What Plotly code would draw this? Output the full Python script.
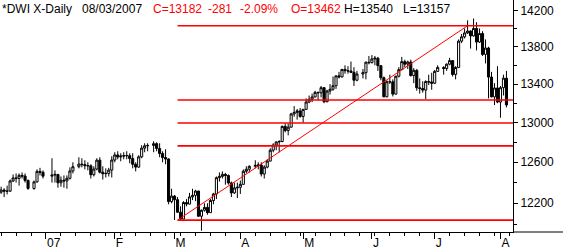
import numpy as np
import plotly.graph_objects as go

# ---------------- data ----------------
dates = [
    "2006-12-08",
    "2006-12-11", "2006-12-12", "2006-12-13", "2006-12-14", "2006-12-15", "2006-12-18", "2006-12-19",
    "2006-12-20", "2006-12-21", "2006-12-22", "2006-12-26", "2006-12-27", "2006-12-28", "2006-12-29",
    "2007-01-03", "2007-01-04", "2007-01-05", "2007-01-08", "2007-01-09", "2007-01-10", "2007-01-11",
    "2007-01-12", "2007-01-16", "2007-01-17", "2007-01-18", "2007-01-19", "2007-01-22", "2007-01-23",
    "2007-01-24", "2007-01-25", "2007-01-26", "2007-01-29", "2007-01-30", "2007-01-31",
    "2007-02-01", "2007-02-02", "2007-02-05", "2007-02-06", "2007-02-07", "2007-02-08", "2007-02-09",
    "2007-02-12", "2007-02-13", "2007-02-14", "2007-02-15", "2007-02-16", "2007-02-20", "2007-02-21",
    "2007-02-22", "2007-02-23", "2007-02-26", "2007-02-27", "2007-02-28",
    "2007-03-01", "2007-03-02", "2007-03-05", "2007-03-06", "2007-03-07", "2007-03-08", "2007-03-09",
    "2007-03-12", "2007-03-13", "2007-03-14", "2007-03-15", "2007-03-16", "2007-03-19", "2007-03-20",
    "2007-03-21", "2007-03-22", "2007-03-23", "2007-03-26", "2007-03-27", "2007-03-28", "2007-03-29",
    "2007-03-30",
    "2007-04-02", "2007-04-03", "2007-04-04", "2007-04-05", "2007-04-09", "2007-04-10", "2007-04-11",
    "2007-04-12", "2007-04-13", "2007-04-16", "2007-04-17", "2007-04-18", "2007-04-19", "2007-04-20",
    "2007-04-23", "2007-04-24", "2007-04-25", "2007-04-26", "2007-04-27", "2007-04-30",
    "2007-05-01", "2007-05-02", "2007-05-03", "2007-05-04", "2007-05-07", "2007-05-08", "2007-05-09",
    "2007-05-10", "2007-05-11", "2007-05-14", "2007-05-15", "2007-05-16", "2007-05-17", "2007-05-18",
    "2007-05-21", "2007-05-22", "2007-05-23", "2007-05-24", "2007-05-25", "2007-05-29", "2007-05-30",
    "2007-05-31",
    "2007-06-01", "2007-06-04", "2007-06-05", "2007-06-06", "2007-06-07", "2007-06-08", "2007-06-11",
    "2007-06-12", "2007-06-13", "2007-06-14", "2007-06-15", "2007-06-18", "2007-06-19", "2007-06-20",
    "2007-06-21", "2007-06-22", "2007-06-25", "2007-06-26", "2007-06-27", "2007-06-28", "2007-06-29",
    "2007-07-02", "2007-07-03", "2007-07-05", "2007-07-06", "2007-07-09", "2007-07-10", "2007-07-11",
    "2007-07-12", "2007-07-13", "2007-07-16", "2007-07-17", "2007-07-18", "2007-07-19", "2007-07-20",
    "2007-07-23", "2007-07-24", "2007-07-25", "2007-07-26", "2007-07-27", "2007-07-30", "2007-07-31",
    "2007-08-01", "2007-08-02", "2007-08-03",
]

open_ = [
    12278,
    12307, 12328, 12316, 12317, 12416, 12446, 12441, 12471, 12464, 12421, 12343, 12407, 12510, 12501,
    12463, 12474, 12480, 12398, 12423, 12416, 12442, 12514, 12556, 12582, 12577, 12567, 12565, 12477,
    12533, 12621, 12502, 12487, 12490, 12523,
    12622, 12673, 12653, 12661, 12666, 12666, 12637, 12580, 12552, 12654, 12741, 12765, 12768, 12786,
    12738, 12687, 12647, 12632, 12216,
    12269, 12234, 12114, 12050, 12207, 12192, 12261, 12276, 12318, 12076, 12133, 12160, 12110, 12226,
    12289, 12448, 12461, 12481, 12469, 12397, 12300, 12348,
    12354, 12383, 12511, 12531, 12560, 12569, 12573, 12484, 12552, 12612, 12720, 12773, 12803, 12808,
    12961, 12919, 12953, 13089, 13105, 13120,
    13063, 13136, 13212, 13241, 13265, 13313, 13309, 13362, 13215, 13327, 13346, 13383, 13487, 13476,
    13556, 13542, 13539, 13525, 13441, 13507, 13521, 13633,
    13628, 13668, 13676, 13596, 13467, 13267, 13425, 13424, 13295, 13483, 13553, 13639, 13612, 13635,
    13490, 13546, 13361, 13353, 13337, 13427, 13422,
    13409, 13535, 13577, 13566, 13612, 13650, 13502, 13577, 13861, 13908, 13951, 13972, 13918, 14000,
    13851, 13944, 13717, 13786, 13474, 13266, 13359,
    13212, 13362, 13462,
]

high_ = [
    12330,
    12360, 12345, 12370, 12430, 12480, 12490, 12490, 12500, 12490, 12430, 12420, 12530, 12545, 12520,
    12640, 12520, 12480, 12460, 12470, 12470, 12550, 12600, 12650, 12640, 12620, 12600, 12580, 12560,
    12640, 12650, 12560, 12540, 12545, 12660,
    12700, 12710, 12690, 12700, 12710, 12690, 12690, 12600, 12670, 12770, 12790, 12790, 12810, 12800,
    12790, 12710, 12730, 12640, 12340,
    12280, 12260, 12170, 12220, 12240, 12300, 12340, 12330, 12320, 12140, 12200, 12200, 12240, 12300,
    12460, 12500, 12510, 12495, 12480, 12410, 12400, 12400,
    12420, 12530, 12560, 12570, 12620, 12600, 12600, 12570, 12630, 12740, 12790, 12810, 12820, 12970,
    12990, 12990, 13100, 13170, 13140, 13150,
    13140, 13250, 13280, 13300, 13330, 13320, 13380, 13370, 13340, 13400, 13480, 13490, 13530, 13560,
    13600, 13590, 13640, 13580, 13540, 13560, 13640, 13700,
    13710, 13700, 13690, 13600, 13480, 13440, 13500, 13450, 13490, 13580, 13690, 13660, 13650, 13660,
    13570, 13560, 13460, 13430, 13440, 13500, 13520,
    13550, 13600, 13590, 13620, 13680, 13650, 13590, 13880, 13940, 14000, 14090, 13980, 14110, 14070,
    14000, 13970, 13880, 13800, 13530, 13410, 13590,
    13380, 13500, 13540,
]

low_ = [
    12270,
    12290, 12260, 12285, 12310, 12405, 12400, 12370, 12440, 12400, 12330, 12330, 12400, 12470, 12440,
    12400, 12400, 12350, 12360, 12350, 12340, 12430, 12490, 12540, 12550, 12530, 12520, 12440, 12460,
    12520, 12490, 12430, 12450, 12460, 12450,
    12600, 12630, 12610, 12630, 12630, 12590, 12540, 12510, 12545, 12640, 12700, 12710, 12700, 12710,
    12650, 12600, 12580, 12190, 12200,
    12040, 12110, 12038, 12050, 12170, 12190, 12230, 12220, 12070, 11939, 12120, 12090, 12110, 12190,
    12240, 12410, 12440, 12380, 12380, 12260, 12290, 12250,
    12290, 12380, 12490, 12500, 12540, 12530, 12460, 12440, 12540, 12610, 12700, 12720, 12700, 12800,
    12900, 12870, 12950, 13060, 13030, 13050,
    13000, 13130, 13200, 13210, 13260, 13230, 13260, 13200, 13210, 13290, 13330, 13350, 13460, 13470,
    13510, 13510, 13520, 13380, 13430, 13460, 13450, 13610,
    13620, 13600, 13540, 13440, 13260, 13260, 13400, 13270, 13290, 13470, 13550, 13580, 13560, 13480,
    13410, 13330, 13300, 13310, 13240, 13390, 13340,
    13400, 13530, 13500, 13540, 13600, 13480, 13450, 13570, 13840, 13890, 13940, 13780, 13910, 13760,
    13840, 13700, 13620, 13250, 13260, 13180, 13200,
    13050, 13280, 13157,
]

close_ = [
    12307,
    12328, 12316, 12317, 12416, 12446, 12441, 12471, 12464, 12421, 12343, 12407, 12510, 12501, 12463,
    12474, 12480, 12398, 12423, 12416, 12442, 12514, 12556, 12582, 12577, 12567, 12565, 12477, 12533,
    12621, 12502, 12487, 12490, 12523, 12622,
    12673, 12653, 12661, 12666, 12666, 12637, 12580, 12552, 12654, 12741, 12765, 12768, 12786, 12738,
    12687, 12647, 12632, 12216, 12269,
    12234, 12114, 12050, 12207, 12192, 12261, 12276, 12318, 12076, 12133, 12160, 12110, 12226, 12289,
    12448, 12461, 12481, 12469, 12397, 12300, 12348, 12354,
    12383, 12511, 12531, 12560, 12569, 12573, 12484, 12552, 12612, 12720, 12773, 12803, 12808, 12961,
    12919, 12953, 13089, 13105, 13120, 13063,
    13136, 13212, 13241, 13265, 13313, 13309, 13362, 13215, 13327, 13346, 13383, 13487, 13476, 13556,
    13542, 13539, 13525, 13441, 13507, 13521, 13633, 13628,
    13668, 13676, 13596, 13467, 13267, 13425, 13424, 13295, 13483, 13553, 13639, 13612, 13635, 13490,
    13546, 13361, 13353, 13337, 13427, 13422, 13409,
    13535, 13577, 13566, 13612, 13650, 13502, 13577, 13861, 13908, 13951, 13972, 13918, 14000, 13851,
    13944, 13717, 13786, 13474, 13266, 13359, 13212,
    13362, 13463, 13182,
]

month_tick_dates = ["2007-01-01", "2007-02-01", "2007-03-01", "2007-04-02",
                    "2007-05-01", "2007-06-01", "2007-07-02", "2007-08-01"]
month_tick_labels = ["07", "F", "M", "A", "M", "J", "J", "A"]

y_major_ticks = [12200, 12600, 13000, 13400, 13800, 14200]
y_minor_ticks = [12000, 12400, 12800, 13200, 13600, 14000]

# Fibonacci retracement anchors (low -> high)
fib_low_date, fib_low = "2007-03-02", 12039
fib_high_date, fib_high = "2007-07-17", 14030
fib_ratios = [0.0, 0.382, 0.5, 0.618, 1.0]

header_parts = [
    ("*DWI X-Daily", "#000000", 0),
    ("08/03/2007", "#000000", 80),
    ("C=13182", "#ff0000", 151),
    ("-281", "#ff0000", 206),
    ("-2.09%", "#ff0000", 238),
    ("O=13462", "#ff0000", 289),
    ("H=13540", "#000000", 342),
    ("L=13157", "#000000", 401),
]

# ---------------- build ----------------
BASE = "2007-01-01"
def wd(d):
    return np.busday_count(BASE, np.array(d, dtype="datetime64[D]"))

x = wd(dates)
x_month = wd(month_tick_dates)
weeks = np.arange(np.datetime64("2006-12-11"), np.datetime64("2007-08-07"), 7)
x_weeks = [int(v) for v in wd(weeks.astype(str).tolist())]

X_MIN, X_MAX = -15.38, 156.19
PLOT_W, PLOT_H = 513, 234

fig = go.Figure()
fig.add_trace(go.Candlestick(
    x=x, open=open_, high=high_, low=low_, close=close_,
    increasing=dict(line=dict(color="black", width=1), fillcolor="white"),
    decreasing=dict(line=dict(color="black", width=1), fillcolor="black"),
    whiskerwidth=0, hoverinfo="skip", showlegend=False,
))

fx0 = float(wd(fib_low_date))
fx1 = float(wd(fib_high_date))
lo, hi = np.log(fib_low), np.log(fib_high)
for r in fib_ratios:
    lvl = float(np.exp(hi - r * (hi - lo)))
    fig.add_trace(go.Scatter(x=[fx0, X_MAX], y=[lvl, lvl], mode="lines",
                             line=dict(color="#ff0000", width=1.6),
                             hoverinfo="skip", showlegend=False))
fig.add_trace(go.Scatter(x=[fx0, fx1], y=[fib_low, fib_high], mode="lines",
                         line=dict(color="#ff0000", width=1),
                         hoverinfo="skip", showlegend=False))

for txt, col, px in header_parts:
    fig.add_annotation(text=txt, xref="paper", yref="paper", x=px / PLOT_W, y=1 - 9 / PLOT_H,
                       xanchor="left", yanchor="middle", showarrow=False,
                       font=dict(family="Arial, Liberation Sans", size=12, color=col))

# extend the bottom axis line under the price labels
fig.add_shape(type="line", xref="paper", yref="paper", x0=1, x1=563 / PLOT_W, y0=0, y1=0,
              line=dict(color="black", width=1))

ylo = np.log10(12200) - 29 / 2949.6
yhi = np.log10(12200) + 205 / 2949.6

fig.update_layout(
    width=563, height=250,
    margin=dict(l=0, r=50, t=0, b=16),
    paper_bgcolor="white", plot_bgcolor="white",
    showlegend=False, boxgap=0.0,
    font=dict(family="Arial, Liberation Sans", size=12, color="black"),
    xaxis=dict(
        range=[X_MIN, X_MAX], rangeslider=dict(visible=False),
        tickmode="array", tickvals=x_month.tolist(), ticktext=month_tick_labels,
        ticks="outside", ticklen=6, tickcolor="black", tickwidth=1,
        ticklabelposition="outside right",
        showline=True, linecolor="black", linewidth=1,
        showgrid=False, zeroline=False,
        tickfont=dict(size=12, color="black"),
        minor=dict(tickmode="array", tickvals=x_weeks, ticks="outside", ticklen=3,
                   tickcolor="black", tickwidth=1, showgrid=False),
        fixedrange=True,
    ),
    yaxis=dict(
        type="log", side="right", range=[ylo, yhi],
        tickmode="array", tickvals=y_major_ticks, ticktext=[str(v) for v in y_major_ticks],
        ticks="outside", ticklen=4, tickcolor="black", tickwidth=1,
        showline=True, linecolor="black", linewidth=1,
        showgrid=False, zeroline=False,
        tickfont=dict(size=12, color="black"),
        minor=dict(tickmode="array", tickvals=y_minor_ticks, ticks="outside", ticklen=3,
                   tickcolor="black", tickwidth=1, showgrid=False),
        fixedrange=True,
    ),
)

fig.write_html("out.html")
